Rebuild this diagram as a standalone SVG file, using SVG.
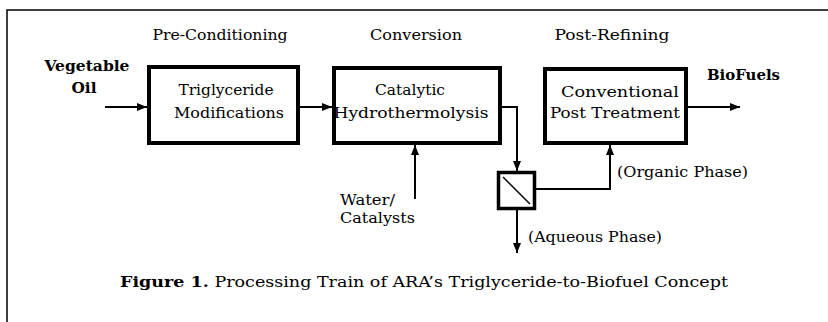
<svg xmlns="http://www.w3.org/2000/svg" width="828" height="322" viewBox="0 0 828 322">
<defs>
<style>
.t{font-family:'DejaVu Serif','Liberation Serif',serif;font-size:14.5px;fill:#000}
.b{font-weight:bold}
.box{fill:#fff;stroke:#000;stroke-width:4}
.ln{fill:none;stroke:#000;stroke-width:2}
.fr{fill:none;stroke:#000;stroke-width:1.5}
</style>
<marker id="ah" markerUnits="userSpaceOnUse" markerWidth="10" markerHeight="10" viewBox="0 0 10 10" refX="10" refY="5" orient="auto">
<path d="M0,1 L10,5 L0,9 Z" fill="#000"/>
</marker>
</defs>
<rect width="828" height="322" fill="#fff"/>
<path class="fr" d="M7,322 V10 H828"/>
<g id="labels">
<text class="t" x="220" y="40" textLength="135" lengthAdjust="spacingAndGlyphs" text-anchor="middle">Pre-Conditioning</text>
<text class="t" x="416" y="40" textLength="92" lengthAdjust="spacingAndGlyphs" text-anchor="middle">Conversion</text>
<text class="t" x="612" y="40" textLength="115" lengthAdjust="spacingAndGlyphs" text-anchor="middle">Post-Refining</text>
</g>
<g id="vegetable-oil">
<text class="t b" x="87" y="71" textLength="85" lengthAdjust="spacingAndGlyphs" text-anchor="middle">Vegetable</text>
<text class="t b" x="84" y="93" textLength="25" lengthAdjust="spacingAndGlyphs" text-anchor="middle">Oil</text>
</g>
<g id="triglyceride-modifications">
<rect class="box" x="149" y="67" width="149" height="76"/>
<text class="t" x="226" y="95" textLength="95" lengthAdjust="spacingAndGlyphs" text-anchor="middle">Triglyceride</text>
<text class="t" x="229" y="118" textLength="110" lengthAdjust="spacingAndGlyphs" text-anchor="middle">Modifications</text>
</g>
<g id="catalytic-hydrothermolysis">
<rect class="box" x="334" y="68" width="166" height="75"/>
<text class="t" x="410" y="95" textLength="70" lengthAdjust="spacingAndGlyphs" text-anchor="middle">Catalytic</text>
<text class="t" x="411" y="118" textLength="155" lengthAdjust="spacingAndGlyphs" text-anchor="middle">Hydrothermolysis</text>
</g>
<g id="conventional-post-treatment">
<rect class="box" x="545" y="69" width="141" height="74"/>
<text class="t" x="620" y="97" textLength="118" lengthAdjust="spacingAndGlyphs" text-anchor="middle">Conventional</text>
<text class="t" x="615" y="118" textLength="130" lengthAdjust="spacingAndGlyphs" text-anchor="middle">Post Treatment</text>
</g>
<g id="biofuels">
<text class="t b" x="707" y="80" textLength="73" lengthAdjust="spacingAndGlyphs">BioFuels</text>
</g>
<g id="water-catalysts">
<text class="t" x="340" y="205" textLength="55" lengthAdjust="spacingAndGlyphs">Water/</text>
<text class="t" x="340" y="223" textLength="75" lengthAdjust="spacingAndGlyphs">Catalysts</text>
</g>
<g id="separator">
<rect x="498.5" y="172.5" width="36" height="36" fill="#fff" stroke="#000" stroke-width="3.5"/>
<line x1="503" y1="177" x2="530" y2="204" stroke="#000" stroke-width="1.5"/>
</g>
<g id="organic-phase">
<text class="t" x="617" y="177" textLength="131" lengthAdjust="spacingAndGlyphs">(Organic Phase)</text>
</g>
<g id="aqueous-phase">
<text class="t" x="528" y="242" textLength="134" lengthAdjust="spacingAndGlyphs">(Aqueous Phase)</text>
</g>
<g id="connectors">
<line class="ln" x1="105" y1="107" x2="147" y2="107" marker-end="url(#ah)"/>
<line class="ln" x1="300" y1="107" x2="332" y2="107" marker-end="url(#ah)"/>
<line class="ln" x1="688" y1="107" x2="740" y2="107" marker-end="url(#ah)"/>
<path class="ln" d="M502,107 H517 V171" marker-end="url(#ah)"/>
<path class="ln" d="M517,210 V253" marker-end="url(#ah)"/>
<path class="ln" d="M536,189 H610 V145" marker-end="url(#ah)"/>
<path class="ln" d="M415,199 V145" marker-end="url(#ah)"/>
</g>
<g id="caption">
<text class="t" x="120" y="287" font-size="15.5" textLength="608" lengthAdjust="spacingAndGlyphs"><tspan class="b">Figure 1.</tspan>  Processing Train of ARA’s Triglyceride-to-Biofuel Concept</text>
</g>
</svg>
